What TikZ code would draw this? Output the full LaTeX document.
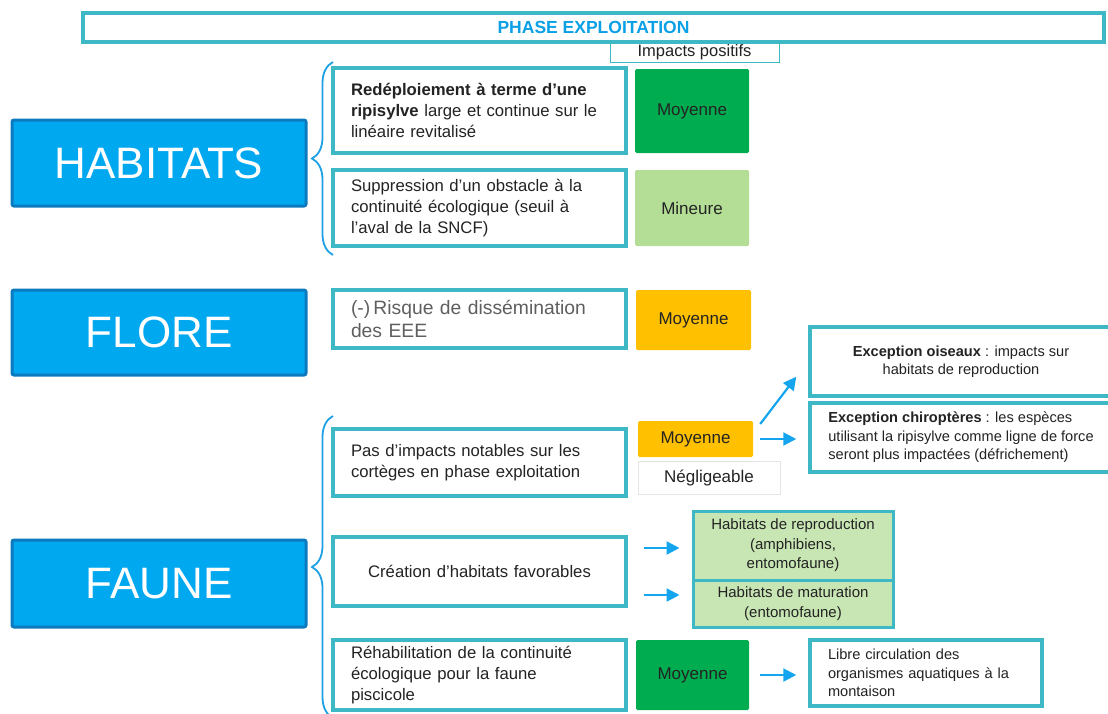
\documentclass[tikz,border=0pt]{standalone}
\usepackage{fontspec}
\setmainfont{Liberation Sans}
\usetikzlibrary{arrows.meta,decorations.pathreplacing,calc}
\definecolor{tealc}{RGB}{62,184,196}
\definecolor{catf}{RGB}{0,168,240}
\definecolor{catb}{RGB}{12,122,190}
\definecolor{brc}{RGB}{30,160,228}
\definecolor{arrc}{RGB}{20,165,238}
\definecolor{titc}{RGB}{10,160,230}
\definecolor{dgreen}{RGB}{0,172,80}
\definecolor{lgreen}{RGB}{180,222,150}
\definecolor{hgreen}{RGB}{200,230,180}
\definecolor{orng}{RGB}{255,192,0}
\definecolor{txt}{RGB}{35,35,35}
\definecolor{gtxt}{RGB}{95,95,95}
\begin{document}
\begin{tikzpicture}[x=1pt,y=-1pt,
  cat/.style={draw=catb, fill=catf, line width=3pt, rounded corners=2pt, minimum width=294pt, inner sep=0pt, text=white, font=\fontsize{44}{44}\selectfont},
  tbox/.style={draw=tealc, line width=3.5pt, fill=white, inner sep=0pt, minimum width=293pt, text width=257pt, align=left, text=txt, font=\fontsize{16.7}{21}\selectfont},
  lvl/.style={inner sep=0pt, rounded corners=1.5pt, text=txt, font=\fontsize{17}{17}\selectfont},
  ebox/.style={draw=tealc, line width=3.5pt, fill=white, inner sep=0pt, text=txt, font=\fontsize{14.6}{18.5}\selectfont},
  hbox/.style={draw=tealc, line width=3pt, fill=hgreen, inner sep=0pt, minimum width=200pt, align=center, text=txt, font=\fontsize{15}{19.5}\selectfont},
  brc/.style={draw=brc, line width=1.8pt, decorate, decoration={brace, amplitude=21pt}},
  arr/.style={draw=arrc, line width=2.2pt, -{Triangle[length=13pt,width=13pt]}}
]
\useasboundingbox (0,0) rectangle (1108,713);
\clip (0,0) rectangle (1108,713);

% header
\node[draw=tealc, line width=1pt, fill=white, minimum width=169pt, minimum height=19pt, inner sep=0pt, text=txt, font=\fontsize{16.5}{16.5}\selectfont] (imp) at (694.5,52.5) {Impacts positifs};
\node[draw=tealc, line width=4pt, fill=white, minimum width=1021pt, minimum height=29pt, inner sep=0pt, text=titc, font=\bfseries\fontsize{17.5}{17.5}\selectfont] (title) at (593.5,27.5) {PHASE EXPLOITATION};

% categories
\node[cat, minimum height=86pt] (hab) at (159,163) {HABITATS};
\node[cat, minimum height=85pt] (flo) at (159,332.5) {FLORE};
\node[cat, minimum height=87pt] (fau) at (159,583.5) {FAUNE};

% braces
\draw[brc] (333,255) -- (333,62);
\draw[brc] (333,718) -- (333,416);

% habitats
\node[tbox, minimum height=85pt] (h1) at (479.5,110.5) {\textbf{Redéploiement à terme d’une}\\\textbf{ripisylve} large et continue sur le\\linéaire revitalisé};
\node[lvl, fill=dgreen, minimum width=114pt, minimum height=84pt] (h1m) at (692,111) {Moyenne};
\node[tbox, minimum height=76pt] (h2) at (479.5,208) {Suppression d’un obstacle à la\\continuité écologique (seuil à\\l’aval de la SNCF)};
\node[lvl, fill=lgreen, minimum width=114pt, minimum height=76pt] (h2m) at (692,208) {Mineure};

% flore
\node[tbox, minimum height=58pt, text=gtxt, font=\fontsize{19.3}{23}\selectfont] (fl) at (479.5,319) {(-)\,Risque de dissémination\\des EEE};
\node[lvl, fill=orng, minimum width=115pt, minimum height=60pt] (flm) at (693.5,320) {Moyenne};

% faune
\node[tbox, minimum height=67pt] (f1) at (479.5,462.5) {Pas d’impacts notables sur les\\cortèges en phase exploitation};
\node[lvl, fill=orng, minimum width=115pt, minimum height=36pt] (f1m) at (695.5,439) {Moyenne};
\node[lvl, rounded corners=0pt, draw=black!10, line width=0.8pt, fill=white, minimum width=142pt, minimum height=33pt] (neg) at (709,477.5) {Négligeable};
\node[ebox, minimum width=302pt, minimum height=69pt, align=center] (ois) at (961,361.5) {\textbf{Exception oiseaux} : impacts sur\\habitats de reproduction};
\node[ebox, minimum width=302pt, minimum height=69pt, align=left] (chi) at (961,437.5) {\textbf{Exception chiroptères} : les espèces\\utilisant la ripisylve comme ligne de force\\seront plus impactées (défrichement)};

\node[tbox, minimum height=69pt, align=center] (f2) at (479.5,571.5) {Création d’habitats favorables};
\node[hbox, minimum height=69pt] (hr) at (793,545.5) {Habitats de reproduction\\(amphibiens,\\entomofaune)};
\node[hbox, minimum height=47pt] (hm) at (793,603.5) {Habitats de maturation\\(entomofaune)};

\node[tbox, minimum height=70pt] (f3) at (479.5,675) {Réhabilitation de la continuité\\écologique pour la faune\\piscicole};
\node[lvl, fill=dgreen, minimum width=113pt, minimum height=70pt] (f3m) at (692.5,675) {Moyenne};
\node[ebox, minimum width=232pt, minimum height=66pt, text width=196pt, align=left] (lib) at (926,673) {Libre circulation des\\organismes aquatiques à la\\montaison};

% arrows
\coordinate (oa) at ([shift={(7,-15)}]f1m.east);
\coordinate (ob) at ([shift={(-12,-21)}]ois.south west);
\draw[arr] (oa) -- (ob);
\draw[arr, shorten <=7pt, shorten >=12pt] (f1m.east) -- (f1m.east -| chi.west);
\coordinate (ra) at ([yshift=-2.5pt]f2.east |- hr.west);
\coordinate (rb) at ([yshift=-2.5pt]hr.west);
\draw[arr, shorten <=16pt, shorten >=12pt] (ra) -- (rb);
\coordinate (ma) at ([yshift=8.5pt]f2.east |- hm.west);
\coordinate (mb) at ([yshift=8.5pt]hm.west);
\draw[arr, shorten <=16pt, shorten >=12pt] (ma) -- (mb);
\draw[arr, shorten <=11pt, shorten >=12pt] (f3m.east) -- (f3m.east -| lib.west);
\end{tikzpicture}
\end{document}
